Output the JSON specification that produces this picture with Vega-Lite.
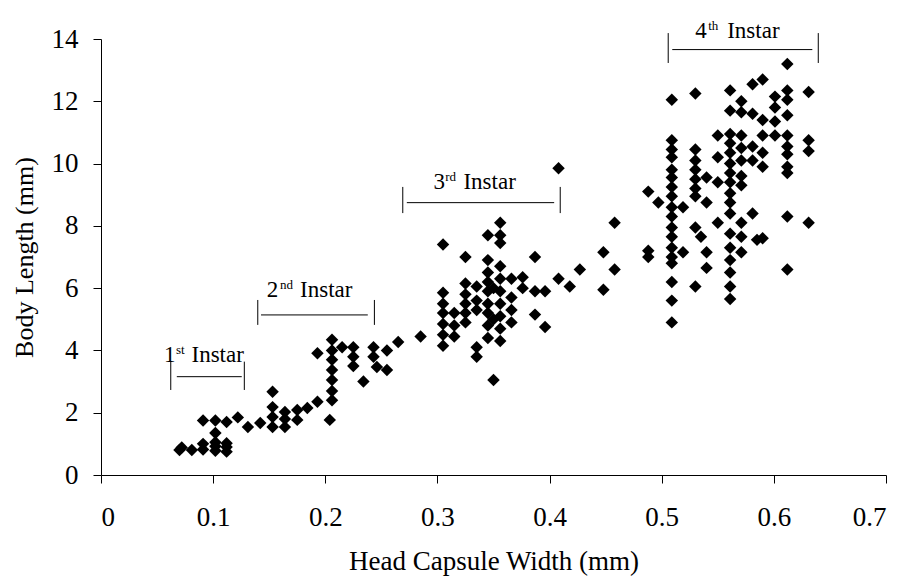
{
  "$schema": "https://vega.github.io/schema/vega-lite/v6.json",
  "width": 785,
  "height": 436,
  "autosize": {"type": "none"},
  "padding": {"left": 101, "top": 39, "right": 19, "bottom": 103},
  "background": "white",
  "config": {
    "view": {"stroke": null},
    "font": "Liberation Serif",
    "axis": {
      "labelFont": "Liberation Serif",
      "titleFont": "Liberation Serif",
      "labelFontSize": 27,
      "titleFontSize": 27,
      "titleFontWeight": "normal",
      "labelColor": "black",
      "titleColor": "black",
      "domainColor": "black",
      "tickColor": "black",
      "tickSize": 8,
      "grid": false
    }
  },
  "datasets": {
    "pts": [
      {"x":0.070,"y":0.80},{"x":0.072,"y":0.88},{"x":0.081,"y":0.80},{"x":0.091,"y":0.82},{"x":0.091,"y":1.00},{"x":0.091,"y":1.75},
      {"x":0.102,"y":0.78},{"x":0.102,"y":0.92},{"x":0.102,"y":1.05},{"x":0.102,"y":1.35},{"x":0.102,"y":1.75},
      {"x":0.112,"y":0.75},{"x":0.112,"y":0.90},{"x":0.112,"y":1.02},{"x":0.112,"y":1.70},{"x":0.122,"y":1.85},
      {"x":0.131,"y":1.54},{"x":0.142,"y":1.67},{"x":0.153,"y":1.54},{"x":0.153,"y":1.86},{"x":0.153,"y":2.18},{"x":0.153,"y":2.67},
      {"x":0.164,"y":1.54},{"x":0.164,"y":1.80},{"x":0.164,"y":2.02},{"x":0.175,"y":1.77},{"x":0.175,"y":2.09},{"x":0.184,"y":2.15},
      {"x":0.193,"y":2.35},{"x":0.193,"y":3.91},{"x":0.204,"y":1.77},{"x":0.206,"y":2.40},{"x":0.206,"y":2.70},{"x":0.206,"y":3.05},
      {"x":0.206,"y":3.37},{"x":0.206,"y":3.70},{"x":0.206,"y":4.00},{"x":0.206,"y":4.34},{"x":0.215,"y":4.10},
      {"x":0.225,"y":3.50},{"x":0.225,"y":3.80},{"x":0.225,"y":4.10},{"x":0.234,"y":3.00},{"x":0.243,"y":3.80},{"x":0.243,"y":4.10},
      {"x":0.246,"y":3.47},{"x":0.255,"y":3.37},{"x":0.255,"y":4.00},{"x":0.265,"y":4.27},{"x":0.285,"y":4.45},
      {"x":0.305,"y":4.15},{"x":0.305,"y":4.50},{"x":0.305,"y":4.85},{"x":0.305,"y":5.20},{"x":0.305,"y":5.50},{"x":0.305,"y":5.85},{"x":0.305,"y":7.40},
      {"x":0.315,"y":4.45},{"x":0.315,"y":4.80},{"x":0.315,"y":5.20},
      {"x":0.325,"y":4.90},{"x":0.325,"y":5.20},{"x":0.325,"y":5.50},{"x":0.325,"y":5.80},{"x":0.325,"y":6.15},{"x":0.325,"y":7.00},
      {"x":0.335,"y":3.80},{"x":0.335,"y":4.10},{"x":0.335,"y":5.30},{"x":0.335,"y":5.60},{"x":0.335,"y":6.05},
      {"x":0.345,"y":4.40},{"x":0.345,"y":4.80},{"x":0.345,"y":5.20},{"x":0.345,"y":5.50},{"x":0.345,"y":5.90},{"x":0.345,"y":6.20},{"x":0.345,"y":6.50},{"x":0.345,"y":6.90},{"x":0.345,"y":7.70},
      {"x":0.350,"y":3.05},{"x":0.350,"y":5.00},{"x":0.350,"y":6.00},
      {"x":0.356,"y":4.30},{"x":0.356,"y":4.70},{"x":0.356,"y":5.10},{"x":0.356,"y":5.50},{"x":0.356,"y":5.90},{"x":0.356,"y":6.30},{"x":0.356,"y":6.70},{"x":0.356,"y":7.45},{"x":0.356,"y":7.70},{"x":0.356,"y":8.10},
      {"x":0.366,"y":4.90},{"x":0.366,"y":5.30},{"x":0.366,"y":5.70},{"x":0.366,"y":6.30},
      {"x":0.376,"y":6.00},{"x":0.376,"y":6.35},{"x":0.387,"y":5.15},{"x":0.387,"y":5.90},{"x":0.387,"y":7.00},
      {"x":0.396,"y":4.75},{"x":0.396,"y":5.90},{"x":0.408,"y":6.30},{"x":0.408,"y":9.85},{"x":0.418,"y":6.05},{"x":0.427,"y":6.60},
      {"x":0.448,"y":5.95},{"x":0.448,"y":7.15},{"x":0.458,"y":6.60},{"x":0.458,"y":8.10},
      {"x":0.488,"y":7.00},{"x":0.488,"y":7.20},{"x":0.488,"y":9.10},{"x":0.497,"y":8.75},
      {"x":0.509,"y":4.90},{"x":0.509,"y":5.60},{"x":0.509,"y":6.20},{"x":0.509,"y":6.80},{"x":0.509,"y":7.00},{"x":0.509,"y":7.30},{"x":0.509,"y":7.65},{"x":0.509,"y":7.95},{"x":0.509,"y":8.30},
      {"x":0.509,"y":8.60},{"x":0.509,"y":8.95},{"x":0.509,"y":9.25},{"x":0.509,"y":9.55},{"x":0.509,"y":9.80},{"x":0.509,"y":10.20},{"x":0.509,"y":10.45},{"x":0.509,"y":10.75},{"x":0.509,"y":12.05},
      {"x":0.519,"y":7.15},{"x":0.519,"y":8.60},
      {"x":0.530,"y":6.05},{"x":0.530,"y":7.95},{"x":0.530,"y":8.95},{"x":0.530,"y":9.20},{"x":0.530,"y":9.50},{"x":0.530,"y":9.80},{"x":0.530,"y":10.10},{"x":0.530,"y":10.45},{"x":0.530,"y":12.25},
      {"x":0.535,"y":7.65},{"x":0.540,"y":6.65},{"x":0.540,"y":7.15},{"x":0.540,"y":8.75},{"x":0.540,"y":9.55},
      {"x":0.550,"y":8.10},{"x":0.550,"y":9.40},{"x":0.550,"y":10.20},{"x":0.550,"y":10.90},
      {"x":0.561,"y":5.65},{"x":0.561,"y":6.05},{"x":0.561,"y":6.50},{"x":0.561,"y":6.90},{"x":0.561,"y":7.30},{"x":0.561,"y":7.75},{"x":0.561,"y":8.40},{"x":0.561,"y":8.75},{"x":0.561,"y":9.05},
      {"x":0.561,"y":9.40},{"x":0.561,"y":9.70},{"x":0.561,"y":10.00},{"x":0.561,"y":10.35},{"x":0.561,"y":10.65},{"x":0.561,"y":10.95},{"x":0.561,"y":11.70},{"x":0.561,"y":12.35},
      {"x":0.571,"y":7.15},{"x":0.571,"y":7.65},{"x":0.571,"y":8.10},{"x":0.571,"y":9.30},{"x":0.571,"y":9.60},{"x":0.571,"y":10.10},{"x":0.571,"y":10.50},{"x":0.571,"y":10.90},{"x":0.571,"y":11.65},{"x":0.571,"y":12.00},
      {"x":0.581,"y":8.40},{"x":0.581,"y":10.10},{"x":0.581,"y":10.55},{"x":0.581,"y":11.60},{"x":0.581,"y":12.55},{"x":0.585,"y":7.55},
      {"x":0.590,"y":7.60},{"x":0.590,"y":9.90},{"x":0.590,"y":10.35},{"x":0.590,"y":10.90},{"x":0.590,"y":11.40},{"x":0.590,"y":12.70},
      {"x":0.601,"y":10.90},{"x":0.601,"y":11.35},{"x":0.601,"y":11.80},{"x":0.601,"y":12.15},
      {"x":0.612,"y":6.60},{"x":0.612,"y":8.30},{"x":0.612,"y":9.70},{"x":0.612,"y":9.90},{"x":0.612,"y":10.30},{"x":0.612,"y":10.55},{"x":0.612,"y":10.90},{"x":0.612,"y":11.55},{"x":0.612,"y":12.05},{"x":0.612,"y":12.35},{"x":0.612,"y":13.20},
      {"x":0.631,"y":8.10},{"x":0.631,"y":10.40},{"x":0.631,"y":10.75},{"x":0.631,"y":12.30}
    ],
    "segs": [
      {"x1":0.0676,"x2":0.1255,"y1":3.157,"y2":3.157},
      {"x1":0.0622,"x2":0.0622,"y1":2.73,"y2":3.64},
      {"x1":0.1278,"x2":0.1278,"y1":2.73,"y2":3.64},
      {"x1":0.1427,"x2":0.2379,"y1":5.14,"y2":5.14},
      {"x1":0.1398,"x2":0.1398,"y1":4.82,"y2":5.62},
      {"x1":0.2438,"x2":0.2438,"y1":4.82,"y2":5.62},
      {"x1":0.2727,"x2":0.4041,"y1":8.745,"y2":8.745},
      {"x1":0.2691,"x2":0.2691,"y1":8.41,"y2":9.25},
      {"x1":0.4095,"x2":0.4095,"y1":8.41,"y2":9.25},
      {"x1":0.5094,"x2":0.6343,"y1":13.66,"y2":13.66},
      {"x1":0.5058,"x2":0.5058,"y1":13.23,"y2":14.19},
      {"x1":0.6396,"x2":0.6396,"y1":13.23,"y2":14.19}
    ],
    "labels": [
      {"x":0.0562,"y":3.64,"t":"1","part":"main"},
      {"x":0.0669,"y":3.64,"t":"st","part":"sup"},
      {"x":0.0807,"y":3.64,"t":"Instar","part":"main"},
      {"x":0.1478,"y":5.706,"t":"2","part":"main"},
      {"x":0.1597,"y":5.706,"t":"nd","part":"sup"},
      {"x":0.1775,"y":5.706,"t":"Instar","part":"main"},
      {"x":0.2964,"y":9.175,"t":"3","part":"main"},
      {"x":0.3069,"y":9.175,"t":"rd","part":"sup"},
      {"x":0.3232,"y":9.175,"t":"Instar","part":"main"},
      {"x":0.5299,"y":14.03,"t":"4","part":"main"},
      {"x":0.5415,"y":14.03,"t":"th","part":"sup"},
      {"x":0.5584,"y":14.03,"t":"Instar","part":"main"}
    ]
  },
  "layer": [
    {
      "data": {"name": "pts"},
      "mark": {"type": "point", "shape": "diamond", "filled": true, "color": "black", "opacity": 1, "size": 155},
      "encoding": {
        "x": {"field": "x", "type": "quantitative", "scale": {"domain": [0, 0.7], "nice": false},
          "axis": {"title": "Head Capsule Width (mm)", "values": [0,0.1,0.2,0.3,0.4,0.5,0.6,0.7],
            "labelExpr": "datum.value == 0 ? '0' : format(datum.value, '.1f')", "labelPadding": 21, "titlePadding": 18}},
        "y": {"field": "y", "type": "quantitative", "scale": {"domain": [0, 14], "nice": false},
          "axis": {"title": "Body Length (mm)", "titleFontSize": 26, "values": [0,2,4,6,8,10,12,14], "labelPadding": 15, "titlePadding": 14}}
      }
    },
    {
      "data": {"name": "segs"},
      "mark": {"type": "rule", "color": "black", "strokeWidth": 1},
      "encoding": {
        "x": {"field": "x1", "type": "quantitative"},
        "x2": {"field": "x2"},
        "y": {"field": "y1", "type": "quantitative"},
        "y2": {"field": "y2"}
      }
    },
    {
      "data": {"name": "labels"},
      "transform": [{"filter": "datum.part == 'main'"}],
      "mark": {"type": "text", "font": "Liberation Serif", "fontSize": 23, "align": "left", "baseline": "alphabetic", "color": "black"},
      "encoding": {
        "x": {"field": "x", "type": "quantitative"},
        "y": {"field": "y", "type": "quantitative"},
        "text": {"field": "t"}
      }
    },
    {
      "data": {"name": "labels"},
      "transform": [{"filter": "datum.part == 'sup'"}],
      "mark": {"type": "text", "font": "Liberation Serif", "fontSize": 13, "align": "left", "baseline": "alphabetic", "dy": -8, "color": "black"},
      "encoding": {
        "x": {"field": "x", "type": "quantitative"},
        "y": {"field": "y", "type": "quantitative"},
        "text": {"field": "t"}
      }
    }
  ]
}
